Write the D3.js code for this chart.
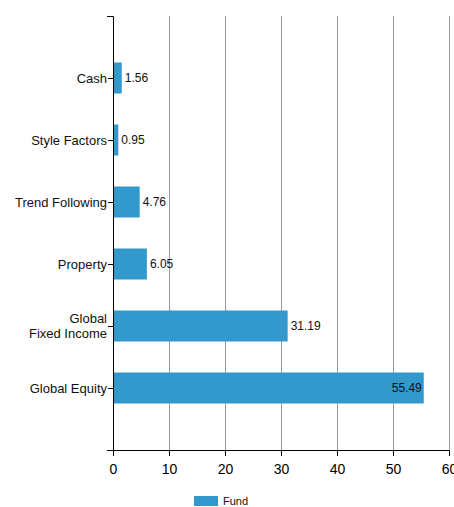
<!DOCTYPE html>
<html>
<head>
<meta charset="utf-8">
<script src="https://cdn.jsdelivr.net/npm/d3@7"></script>
<style>
  body { margin: 0; background: #fff; }
  text { font-family: "Liberation Sans", Arial, sans-serif; }
</style>
</head>
<body>
<div id="chart"></div>
<script>
`use strict`;

const categories = [`Cash`, `Style Factors`, `Trend Following`, `Property`, `Global Fixed Income`, `Global Equity`];
const fundValues = [1.56, 0.95, 4.76, 6.05, 31.19, 55.49];
const xTicks = [0, 10, 20, 30, 40, 50, 60];
const seriesName = `Fund`;

(function () {

  const W = 454, H = 507;
  const left = 113, right = 449, top = 16, bottom = 450;

  let svg = d3.select(`#chart`).append(`svg`)
    .attr(`width`, W)
    .attr(`height`, H);

  let x = d3.scaleLinear().domain([0, 60]).range([left, right]);

  let y = d3.scalePoint().domain(categories).range([top, bottom]).padding(1);

  let barH = y.step() / 2;

  // grid
  svg.append(`g`).selectAll(`line`).data(xTicks.slice(1))
    .enter()
    .append(`line`)
    .attr(`x1`, d => x(d) + .5)
    .attr(`x2`, d => x(d) + .5)
    .attr(`y1`, top)
    .attr(`y2`, bottom)
    .attr(`stroke`, `#999`)
    .attr(`stroke-width`, 1);

  // bars
  let rows = categories.map((c, i) => ({cat: c, val: fundValues[i]}));

  svg.append(`g`).selectAll(`rect`).data(rows)
    .enter()
    .append(`rect`)
    .attr(`x`, x(0))
    .attr(`y`, d => y(d.cat) - barH / 2)
    .attr(`width`, d => x(d.val) - x(0))
    .attr(`height`, barH)
    .attr(`fill`, `#3399cc`);

  // value labels
  svg.append(`g`).selectAll(`text`).data(rows)
    .enter()
    .append(`text`)
    .attr(`x`, d => d.val > 50 ? x(d.val) - 2 : x(d.val) + 3)
    .attr(`y`, d => y(d.cat))
    .attr(`dy`, `.35em`)
    .attr(`text-anchor`, d => d.val > 50 ? `end` : `start`)
    .style(`font-size`, `12px`)
    .attr(`fill`, `#111`)
    .text(d => d.val.toFixed(2));

  // x axis
  let xAxis = svg.append(`g`)
    .attr(`transform`, `translate(0,${bottom})`)
    .call(d3.axisBottom(x).tickValues(xTicks).tickSize(6).tickSizeOuter(6));

  xAxis.selectAll(`text`)
    .style(`font-size`, `14px`)
    .attr(`fill`, `#000`)
    .attr(`dy`, `1.1em`);

  // y axis
  let yAxis = svg.append(`g`)
    .attr(`transform`, `translate(${left},0)`)
    .call(d3.axisLeft(y).tickSize(5).tickSizeOuter(6).tickFormat(``));

  yAxis.selectAll(`.tick`).append(`text`)
    .attr(`x`, -6)
    .attr(`text-anchor`, `end`)
    .style(`font-size`, `13px`)
    .attr(`fill`, `#111`)
    .each(function (d) {
      let t = d3.select(this);
      let parts = d === `Global Fixed Income` ? [`Global`, `Fixed Income`] : [d];
      parts.forEach((p, i) => {
        t.append(`tspan`)
          .attr(`x`, -6)
          .attr(`dy`, parts.length > 1 ? (i === 0 ? `-0.25em` : `1.15em`) : `.35em`)
          .text(p);
      });
    });

  svg.selectAll(`.domain`).attr(`stroke`, `#000`);
  svg.selectAll(`.tick line`).attr(`stroke`, `#000`);

  // legend
  let legend = svg.append(`g`).attr(`transform`, `translate(194,496)`);

  legend.append(`rect`)
    .attr(`width`, 24)
    .attr(`height`, 10)
    .attr(`fill`, `#3399cc`);

  legend.append(`text`)
    .attr(`x`, 29)
    .attr(`y`, 5)
    .attr(`dy`, `.35em`)
    .style(`font-size`, `11px`)
    .attr(`fill`, `#111`)
    .text(seriesName);

})();
</script>
</body>
</html>
